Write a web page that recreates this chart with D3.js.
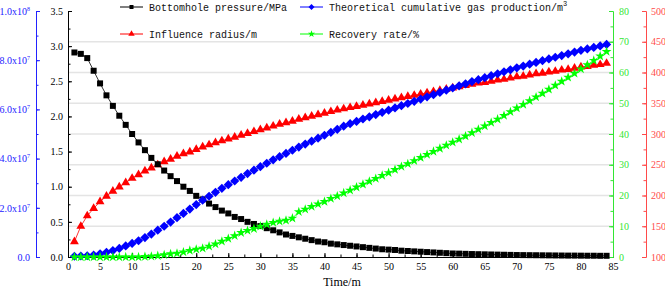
<!DOCTYPE html>
<html>
<head>
<meta charset="utf-8">
<script src="https://cdn.jsdelivr.net/npm/d3@7"></script>
<style>
  body { margin: 0; background: #fff; }
  svg { display: block; }
</style>
</head>
<body>
<svg id="chart" width="665" height="289"></svg>
<script>
// time steps (x axis)
const time = [1, 2, 3, 4, 5, 6, 7, 8, 9, 10, 11, 12, 13, 14, 15, 16, 17, 18, 19, 20,
  21, 22, 23, 24, 25, 26, 27, 28, 29, 30, 31, 32, 33, 34, 35, 36, 37, 38, 39, 40,
  41, 42, 43, 44, 45, 46, 47, 48, 49, 50, 51, 52, 53, 54, 55, 56, 57, 58, 59, 60,
  61, 62, 63, 64, 65, 66, 67, 68, 69, 70, 71, 72, 73, 74, 75, 76, 77, 78, 79, 80,
  81, 82, 83, 84];

// Bottomhole pressure, MPa
const pressure = [2.91, 2.89, 2.83, 2.65, 2.47, 2.30, 2.15, 2.01, 1.88, 1.75,
  1.63, 1.52, 1.41, 1.32, 1.23, 1.15, 1.08, 1.00, 0.94, 0.87,
  0.82, 0.76, 0.71, 0.66, 0.62, 0.57, 0.54, 0.50, 0.47, 0.44,
  0.41, 0.38, 0.35, 0.32, 0.30, 0.28, 0.26, 0.24, 0.22, 0.21,
  0.19, 0.18, 0.17, 0.16, 0.15, 0.14, 0.13, 0.12, 0.11, 0.105,
  0.10, 0.09, 0.085, 0.08, 0.075, 0.07, 0.065, 0.06, 0.055, 0.05,
  0.048, 0.045, 0.042, 0.04, 0.038, 0.036, 0.034, 0.032, 0.03, 0.028,
  0.027, 0.026, 0.025, 0.024, 0.023, 0.022, 0.021, 0.02, 0.02, 0.019,
  0.018, 0.018, 0.017, 0.017];

// Theoretical cumulative gas production, millions of m^3
const gasProduction = [0.3, 0.4, 0.5, 0.8, 1.3, 1.9, 2.6, 3.5, 4.5, 5.5,
  6.6, 7.9, 9.3, 10.9, 12.5, 14.2, 16.0, 17.7, 19.5, 21.3,
  23.1, 24.7, 26.3, 27.9, 29.4, 30.9, 32.4, 33.9, 35.3, 36.7,
  38.1, 39.5, 40.8, 42.1, 43.4, 44.7, 45.9, 47.1, 48.3, 49.5,
  50.7, 51.9, 53.2, 54.2, 55.1, 56.1, 57.0, 57.9, 58.8, 59.7,
  60.6, 61.5, 62.4, 63.3, 64.2, 65.1, 66.0, 66.9, 67.8, 68.7,
  69.6, 70.4, 71.3, 72.1, 72.9, 73.7, 74.5, 75.3, 76.1, 76.9,
  77.6, 78.4, 79.1, 79.8, 80.5, 81.2, 81.9, 82.6, 83.3, 84.0,
  84.6, 85.2, 85.8, 86.4];

// Influence radius, m
const radius = [125, 150, 167, 179, 190, 199, 207, 214, 221, 228,
  234, 240, 245, 250, 255, 259, 264, 268, 271, 275,
  279, 282.5, 286, 289, 292, 295, 298, 301, 304, 307,
  310, 313, 316, 318.5, 321, 324, 326.5, 329, 331.5, 334,
  336.5, 339, 341, 343, 345, 347, 349, 351, 353, 355,
  357, 359, 361, 363, 365, 367, 369, 371, 373, 375,
  377, 379, 381, 383, 384, 386, 388, 389, 391, 393,
  394, 396, 398, 399, 401, 402, 404, 405, 407, 409,
  410, 412, 413, 415];

// Recovery rate, %
const recovery = [0, 0, 0, 0, 0, 0, 0, 0, 0, 0,
  0, 0.1, 0.2, 0.4, 0.7, 1.0, 1.2, 1.6, 2.1, 2.5,
  2.8, 3.5, 4.2, 5.1, 6.0, 6.9, 7.9, 8.6, 9.2, 10.0,
  10.6, 11.2, 11.6, 11.9, 12.6, 14.7, 15.5, 16.4, 17.2, 18.0,
  19.0, 19.8, 20.8, 21.7, 22.7, 23.6, 24.6, 25.5, 26.5, 27.4,
  28.4, 29.4, 30.3, 31.3, 32.3, 33.3, 34.3, 35.3, 36.3, 37.3,
  38.3, 39.3, 40.4, 41.5, 42.6, 43.7, 44.8, 46.0, 47.2, 48.4,
  49.6, 50.8, 52.0, 53.2, 54.5, 55.8, 57.1, 58.4, 59.7, 61.1,
  62.5, 63.9, 65.3, 66.8];

const legendLabels = ["Bottomhole pressure/MPa", "Theoretical cumulative gas production/m",
  "Influence radius/m", "Recovery rate/%"];

// tick values for every axis
const xTicks = [0, 5, 10, 15, 20, 25, 30, 35, 40, 45, 50, 55, 60, 65, 70, 75, 80, 85];
const pressureTicks = [0, 0.5, 1.0, 1.5, 2.0, 2.5, 3.0, 3.5];
const gasTicks = [0, 20, 40, 60, 80, 100];
const recoveryTicks = [0, 10, 20, 30, 40, 50, 60, 70, 80];
const radiusTicks = [100, 150, 200, 250, 300, 350, 400, 450, 500];

const svg = d3.select("#chart");
const plotTop = 11, plotBottom = 257, plotLeft = 68, plotRight = 613;

const x = d3.scaleLinear().domain([0, 85]).range([plotLeft, plotRight]);
const yP = d3.scaleLinear().domain([0, 3.5]).range([plotBottom, plotTop]);
const yG = d3.scaleLinear().domain([0, 100]).range([plotBottom, plotTop]);
const yR = d3.scaleLinear().domain([100, 500]).range([plotBottom, plotTop]);
const yRec = d3.scaleLinear().domain([0, 80]).range([plotBottom, plotTop]);

const serif = "'Liberation Serif', 'Times New Roman', serif";
const mono = "'Liberation Mono', 'DejaVu Sans Mono', monospace";

// gridlines follow the recovery-rate axis
svg.append("g")
  .selectAll("line")
  .data([10, 20, 30, 40, 50, 60, 70])
  .join("line")
  .attr("x1", plotLeft).attr("x2", plotRight)
  .attr("y1", (d) => yRec(d)).attr("y2", (d) => yRec(d))
  .attr("stroke", "#e4e4e4")
  .attr("stroke-width", 1.5);

function styleAxis(g, color) {
  g.selectAll("path").attr("stroke", color);
  g.selectAll("line").attr("stroke", color);
  g.selectAll("text").attr("fill", color).attr("font-family", serif).attr("font-size", 10);
}

function minor(axisFn, scale, step, size) {
  const [a, b] = scale.domain();
  return axisFn(scale).tickValues(d3.range(a, b + step / 2, step)).tickFormat("")
    .tickSizeInner(size).tickSizeOuter(0);
}

// x axis
const gx = svg.append("g").attr("transform", `translate(0,${plotBottom})`);
gx.call(minor(d3.axisBottom, x, 2.5, -2.5));
gx.append("g").call(d3.axisBottom(x).tickValues(xTicks).tickSizeInner(-4).tickSizeOuter(0).tickPadding(6));
styleAxis(gx, "#000");

// pressure axis (black)
const gp = svg.append("g").attr("transform", `translate(${plotLeft},0)`);
gp.call(minor(d3.axisLeft, yP, 0.25, -2.5));
gp.append("g").call(d3.axisLeft(yP).tickValues(pressureTicks).tickFormat(d3.format(".1f"))
  .tickSizeInner(-4).tickSizeOuter(0).tickPadding(5));
styleAxis(gp, "#000");

// gas production axis (blue)
const gg = svg.append("g").attr("transform", "translate(36,0)");
gg.call(minor(d3.axisLeft, yG, 10, -2.5));
const ggMajor = gg.append("g").call(d3.axisLeft(yG).tickValues(gasTicks).tickSizeInner(-4).tickSizeOuter(0).tickPadding(6));
styleAxis(gg, "#2222ff");
ggMajor.selectAll(".tick text").each(function (d) {
  const t = d3.select(this).text(null);
  if (d === 0) { t.text("0.0"); return; }
  const v = d * 1e6;
  const exp = Math.floor(Math.log10(v));
  t.append("tspan").text((v / Math.pow(10, exp)).toFixed(1) + "x10");
  t.append("tspan").attr("dy", -4).attr("font-size", 6).text(exp);
});

// recovery axis (green)
const gr = svg.append("g").attr("transform", `translate(${plotRight},0)`);
gr.call(minor(d3.axisRight, yRec, 5, -2.5));
gr.append("g").call(d3.axisRight(yRec).tickValues(recoveryTicks).tickSizeInner(-4).tickSizeOuter(0).tickPadding(6));
styleAxis(gr, "#33e633");

// radius axis (red)
const gd = svg.append("g").attr("transform", "translate(646,0)");
gd.call(minor(d3.axisRight, yR, 25, -2.5));
gd.append("g").call(d3.axisRight(yR).tickValues(radiusTicks).tickSizeInner(-4).tickSizeOuter(0).tickPadding(5));
styleAxis(gd, "#ff4a4a");

svg.append("text")
  .attr("x", 342).attr("y", 286)
  .attr("text-anchor", "middle")
  .attr("font-family", serif).attr("font-size", 12)
  .text("Time/m");

// markers
const shapes = {
  square: d3.symbol(d3.symbolSquare, 36),
  diamond: (r) => `M0,${-r}L${r},0L0,${r}L${-r},0Z`,
  triangle: d3.symbol(d3.symbolTriangle, 34),
  star: d3.symbol(d3.symbolStar, 30),
};

const series = [
  { name: "radius", values: radius, y: yR, color: "#ff0000", shape: shapes.triangle() },
  { name: "pressure", values: pressure, y: yP, color: "#000000", shape: shapes.square() },
  { name: "gas", values: gasProduction, y: yG, color: "#0000ff", shape: shapes.diamond(4.6) },
  { name: "recovery", values: recovery, y: yRec, color: "#00ff00", shape: shapes.star() },
];

series.forEach((s) => {
  const pts = time.map((t, i) => [x(t), s.y(s.values[i])]);
  const g = svg.append("g").attr("class", s.name);
  g.append("path")
    .attr("d", d3.line()(pts))
    .attr("fill", "none")
    .attr("stroke", s.color)
    .attr("stroke-width", 0.8);
  g.selectAll("path.mark")
    .data(pts)
    .join("path")
    .attr("class", "mark")
    .attr("transform", (d) => `translate(${d[0]},${d[1]})`)
    .attr("d", s.shape)
    .attr("fill", s.color);
});

// legend
const legendItems = [
  { label: legendLabels[0], color: "#000000", shape: d3.symbol(d3.symbolSquare, 16)(), x: 120, y: 7 },
  { label: legendLabels[1], color: "#0000ff", shape: shapes.diamond(3), x: 300, y: 7, sup: "3" },
  { label: legendLabels[2], color: "#ff0000", shape: d3.symbol(d3.symbolTriangle, 18)(), x: 120, y: 34 },
  { label: legendLabels[3], color: "#00ff00", shape: d3.symbol(d3.symbolStar, 16)(), x: 300, y: 34 },
];

const lg = svg.append("g")
  .selectAll("g")
  .data(legendItems)
  .join("g")
  .attr("transform", (d) => `translate(${d.x},${d.y})`);

lg.append("line")
  .attr("x1", 0).attr("x2", 23)
  .attr("stroke", (d) => d.color)
  .attr("stroke-width", 1);

lg.append("path")
  .attr("transform", "translate(11.5,0)")
  .attr("d", (d) => d.shape)
  .attr("fill", (d) => d.color);

lg.append("text")
  .attr("x", 29).attr("y", 3.5)
  .attr("font-family", mono).attr("font-size", 10)
  .attr("fill", "#111")
  .each(function (d) {
    const t = d3.select(this);
    t.append("tspan").text(d.label);
    if (d.sup) t.append("tspan").attr("dy", -5).attr("font-size", 7).text(d.sup);
  });
</script>
</body>
</html>
